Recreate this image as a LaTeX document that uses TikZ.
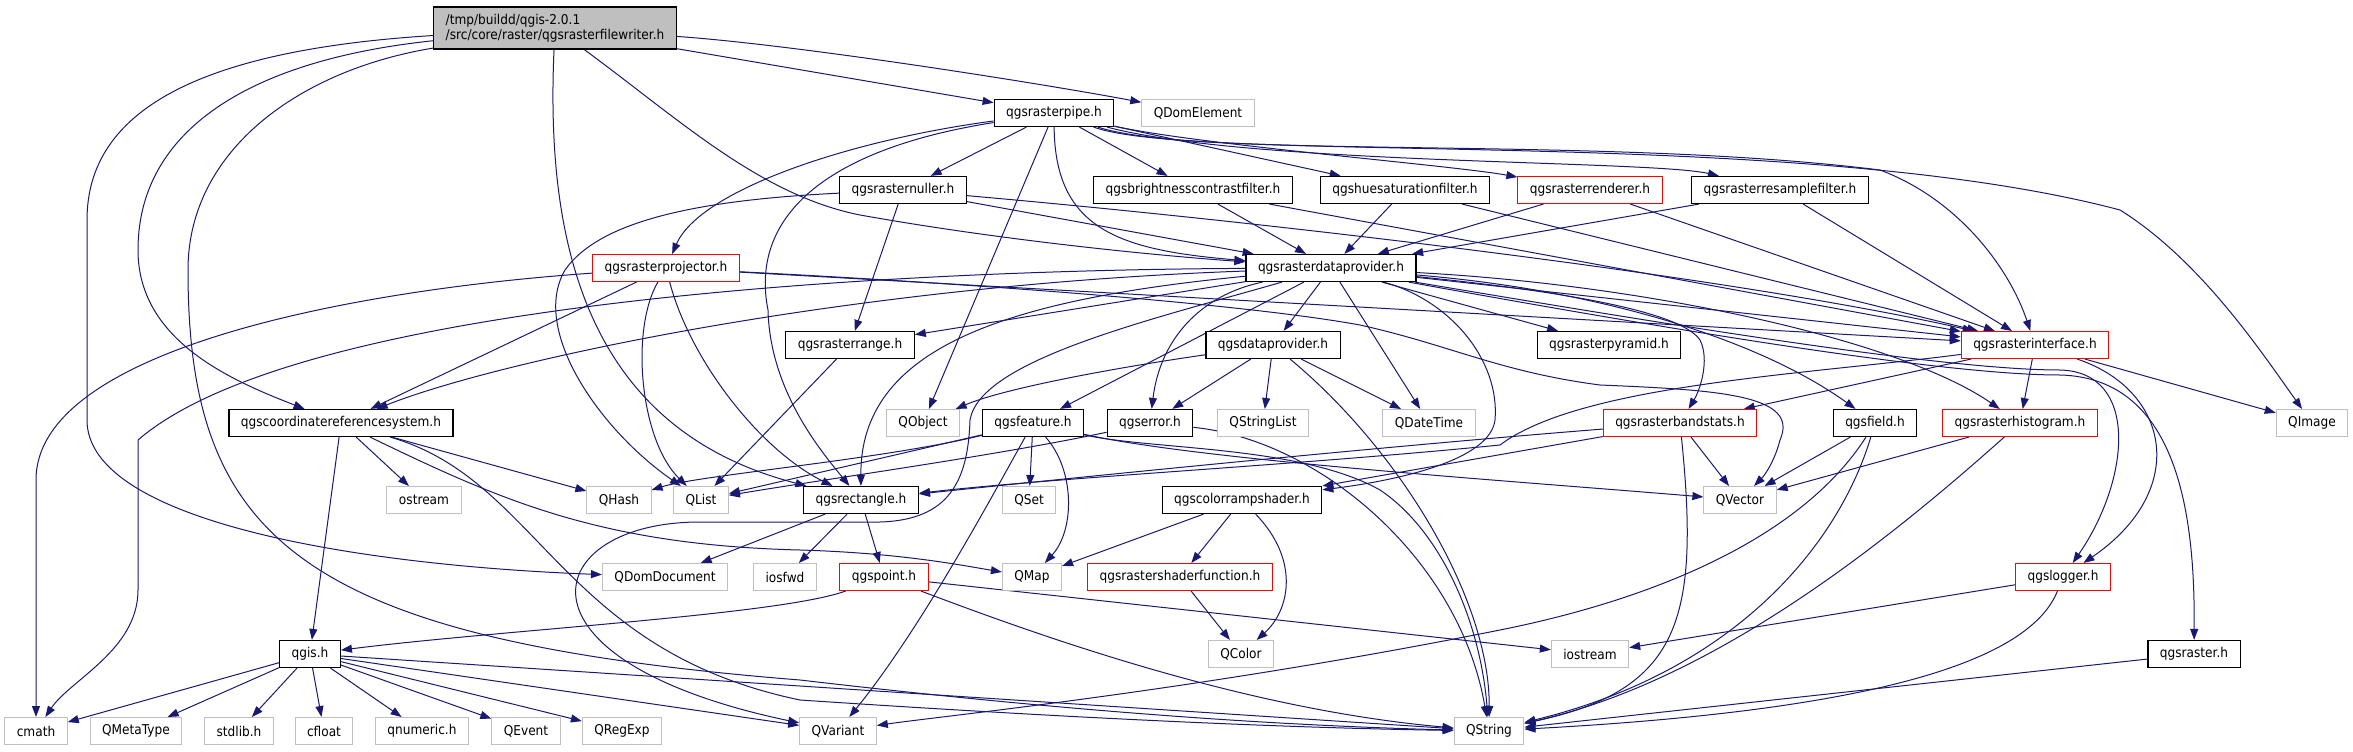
\documentclass[tikz,border=0pt]{standalone}
\usepackage{fontspec}
\setmainfont{DejaVu Sans}[FakeStretch=0.9]
\usepackage{tikz}
\usetikzlibrary{arrows.meta,backgrounds}

\definecolor{depblue}{RGB}{25,25,112}
\definecolor{extgray}{RGB}{191,191,191}

\tikzset{
  hdr/.style={draw=black, line width=1.2pt, fill=white, inner xsep=12pt, inner ysep=0pt,
    minimum height=27pt, font=\fontsize{13.5}{15}\selectfont},
  hdrred/.style={hdr, draw=red, line width=1pt},
  hdrext/.style={hdr, draw=extgray, line width=1pt},
  dep/.style={depblue, line width=1pt, -{Triangle[length=11pt,width=8pt]}},
}

\begin{document}
\begin{tikzpicture}[x=1pt, y=-1pt]
  \useasboundingbox (0,0) rectangle (2353,752);

  % Root header
  \node[hdr, fill=extgray, align=left, minimum height=42pt, inner ysep=5pt] (root) at (555,28)
    {/tmp/buildd/qgis-2.0.1\\/src/core/raster/qgsrasterfilewriter.h};

  % Row 1
  \node[hdr]    (pipe)    at (1054,113) {qgsrasterpipe.h};
  \node[hdrext] (domelem) at (1198,113) {QDomElement};

  % Row 2
  \node[hdr]    (nuller)   at (903,190)  {qgsrasternuller.h};
  \node[hdr]    (bcfilter) at (1193,190) {qgsbrightnesscontrastfilter.h};
  \node[hdr]    (hsfilter) at (1405,190) {qgshuesaturationfilter.h};
  \node[hdrred] (renderer) at (1590,190) {qgsrasterrenderer.h};
  \node[hdr]    (resample) at (1780,190) {qgsrasterresamplefilter.h};

  % Row 3
  \node[hdrred] (projector) at (666,268)  {qgsrasterprojector.h};
  \node[hdr]    (rdprov)    at (1331,268) {qgsrasterdataprovider.h};

  % Row 4
  \node[hdr]    (rrange)     at (850,345)  {qgsrasterrange.h};
  \node[hdr]    (dprov)      at (1273,345) {qgsdataprovider.h};
  \node[hdr]    (pyramid)    at (1609,345) {qgsrasterpyramid.h};
  \node[hdrred] (rinterface) at (2035,345) {qgsrasterinterface.h};

  % Row 5
  \node[hdr]    (crs)       at (341,423)  {qgscoordinatereferencesystem.h};
  \node[hdrext] (qobject)   at (923,423)  {QObject};
  \node[hdr]    (feature)   at (1033,423) {qgsfeature.h};
  \node[hdr]    (error)     at (1150,423) {qgserror.h};
  \node[hdrext] (qstrlist)  at (1263,423) {QStringList};
  \node[hdrext] (qdatetime) at (1429,423) {QDateTime};
  \node[hdrred] (bandstats) at (1680,423) {qgsrasterbandstats.h};
  \node[hdr]    (field)     at (1875,423) {qgsfield.h};
  \node[hdrred] (histogram) at (2020,423) {qgsrasterhistogram.h};
  \node[hdrext] (qimage)    at (2312,423) {QImage};

  % Row 6
  \node[hdrext] (ostream) at (424,500)  {ostream};
  \node[hdrext] (qhash)   at (619,500)  {QHash};
  \node[hdrext] (qlist)   at (701,500)  {QList};
  \node[hdr]    (rect)    at (861,500)  {qgsrectangle.h};
  \node[hdrext] (qset)    at (1029,500) {QSet};
  \node[hdr]    (cramp)   at (1242,500) {qgscolorrampshader.h};
  \node[hdrext] (qvector) at (1740,500) {QVector};

  % Row 7
  \node[hdrext] (domdoc)   at (665,577)  {QDomDocument};
  \node[hdrext] (iosfwd)   at (785,577)  {iosfwd};
  \node[hdrred] (point)    at (884,577)  {qgspoint.h};
  \node[hdrext] (qmap)     at (1032,577) {QMap};
  \node[hdrred] (shaderfn) at (1180,577) {qgsrastershaderfunction.h};
  \node[hdrred] (logger)   at (2063,577) {qgslogger.h};

  % Row 8
  \node[hdr]    (qgis)     at (310,654)  {qgis.h};
  \node[hdrext] (qcolor)   at (1241,654) {QColor};
  \node[hdrext] (iostream) at (1590,654) {iostream};
  \node[hdr]    (raster)   at (2194,654) {qgsraster.h};

  % Row 9
  \node[hdrext] (cmath)     at (36,731)   {cmath};
  \node[hdrext] (qmetatype) at (136,731)  {QMetaType};
  \node[hdrext] (stdlib)    at (239,731)  {stdlib.h};
  \node[hdrext] (cfloat)    at (324,731)  {cfloat};
  \node[hdrext] (qnumeric)  at (422,731)  {qnumeric.h};
  \node[hdrext] (qevent)    at (526,731)  {QEvent};
  \node[hdrext] (qregexp)   at (622,731)  {QRegExp};
  \node[hdrext] (qvariant)  at (838,731)  {QVariant};
  \node[hdrext] (qstring)   at (1489,731) {QString};

  \begin{scope}[on background layer]
  % Straight dependencies
  \foreach \a/\b in {root/pipe, pipe/nuller, pipe/bcfilter, pipe/hsfilter,
      pipe/qobject, nuller/rrange, nuller/rdprov, bcfilter/rdprov, bcfilter/rinterface,
      hsfilter/rdprov, hsfilter/rinterface, renderer/rdprov, renderer/rinterface,
      resample/rdprov, resample/rinterface, projector/crs, projector/rinterface,
      rdprov/rrange, rdprov/feature, rdprov/dprov, rdprov/qdatetime, rdprov/pyramid,
      rdprov/rinterface, rinterface/bandstats, rinterface/histogram, rinterface/qimage,
      dprov/error, dprov/qstrlist, dprov/qdatetime, rrange/qlist, feature/qlist,
      feature/qset, crs/ostream, crs/qhash, crs/qgis, rect/domdoc, rect/iosfwd,
      rect/point, point/iostream, bandstats/cramp, bandstats/qvector, field/qvector,
      histogram/qvector, cramp/qmap, cramp/shaderfn, shaderfn/qcolor, logger/iostream,
      raster/qstring, qgis/cmath, qgis/qmetatype, qgis/stdlib, qgis/cfloat, qgis/qnumeric,
      qgis/qevent, qgis/qregexp, qgis/qvariant, qgis/qstring}
    \draw[dep] (\a) -- (\b);

  % Curved dependencies of the root header
  \draw[dep] (root) .. controls (800,45) and (1050,85) .. (domelem);
  \draw[dep] (root) .. controls (680,120) and (760,195) .. (860,215)
    .. controls (1000,240) and (1150,255) .. (rdprov);
  \draw[dep] (root) .. controls (545,250) and (590,430) .. (rect);
  \draw[dep] (root) .. controls (250,60) and (138,130) .. (138,250)
    .. controls (138,340) and (230,380) .. (crs);
  \draw[dep] (root) .. controls (200,50) and (87,110) .. (87,220) -- (87,420)
    .. controls (87,520) and (350,565) .. (domdoc);
  \draw[dep] (root) .. controls (300,70) and (188,150) .. (188,270)
    .. controls (188,540) and (300,640) .. (800,680)
    .. controls (1100,715) and (1300,726) .. (qstring);

  % Curved dependencies of the pipe
  \draw[dep] (pipe) .. controls (1055,230) and (1120,250) .. (rdprov);
  \draw[dep] (pipe) .. controls (850,140) and (700,190) .. (projector);
  \draw[dep] (pipe) .. controls (820,150) and (750,220) .. (768,310)
    .. controls (770,390) and (820,450) .. (rect);
  \draw[dep] (pipe) .. controls (1200,145) and (1450,165) .. (renderer);
  \draw[dep] (pipe) .. controls (1250,165) and (1650,160) .. (resample);
  \draw[dep] (pipe) .. controls (1200,160) and (1600,135) .. (1880,170)
    .. controls (1960,200) and (2010,270) .. (rinterface);
  \draw[dep] (pipe) .. controls (1200,165) and (1800,125) .. (2120,210)
    .. controls (2200,260) and (2260,350) .. (qimage);

  % Nuller and projector
  \draw[dep] (nuller) .. controls (1300,225) and (1750,280) .. (rinterface);
  \draw[dep] (nuller) .. controls (700,200) and (600,220) .. (565,270)
    .. controls (530,330) and (600,430) .. (qlist);
  \draw[dep] (projector) .. controls (350,290) and (36,350) .. (36,480) -- (cmath);
  \draw[dep] (projector) .. controls (630,330) and (640,440) .. (qlist);
  \draw[dep] (projector) .. controls (690,360) and (760,450) .. (rect);
  \draw[dep] (projector) .. controls (1000,285) and (1250,305) .. (1360,325)
    .. controls (1450,345) and (1500,372) .. (1600,385)
    .. controls (1720,390) and (1800,395) .. (1780,440)
    .. controls (1775,460) and (1765,475) .. (qvector);

  % Raster data provider
  \draw[dep] (rdprov) .. controls (900,270) and (300,300) .. (138,440) -- (138,590)
    .. controls (138,650) and (70,680) .. (cmath);
  \draw[dep] (rdprov) .. controls (850,285) and (500,360) .. (crs);
  \draw[dep] (rdprov) .. controls (1000,300) and (860,350) .. (rect);
  \draw[dep] (rdprov) .. controls (1150,320) and (980,360) .. (970,420)
    .. controls (968,480) and (950,520) .. (880,522) -- (700,522)
    .. controls (540,522) and (500,660) .. (qvariant);
  \draw[dep] (rdprov) .. controls (1200,295) and (1160,340) .. (error);
  \draw[dep] (rdprov) .. controls (1450,300) and (1500,360) .. (1495,420)
    .. controls (1490,460) and (1400,480) .. (cramp);
  \draw[dep] (rdprov) .. controls (1550,290) and (1680,310) .. (1700,340)
    .. controls (1710,360) and (1700,390) .. (bandstats);
  \draw[dep] (rdprov) .. controls (1600,290) and (1760,340) .. (field);
  \draw[dep] (rdprov) .. controls (1650,285) and (1900,340) .. (histogram);
  \draw[dep] (rdprov) .. controls (1700,330) and (1950,370) .. (2060,370)
    .. controls (2140,372) and (2130,480) .. (logger);
  \draw[dep] (rdprov) .. controls (1700,335) and (1950,375) .. (2060,375)
    .. controls (2180,378) and (2195,520) .. (raster);

  % Raster interface
  \draw[dep] (rinterface) .. controls (2170,390) and (2190,490) .. (logger);
  \draw[dep] (rinterface) .. controls (1800,375) and (1580,385) .. (1500,445)
    .. controls (1300,465) and (1050,478) .. (rect);

  % Second level headers
  \draw[dep] (dprov) .. controls (1100,370) and (1000,390) .. (qobject);
  \draw[dep] (dprov) .. controls (1400,450) and (1490,600) .. (qstring);
  \draw[dep] (feature) .. controls (880,460) and (700,475) .. (qhash);
  \draw[dep] (feature) .. controls (1075,470) and (1075,530) .. (qmap);
  \draw[dep] (feature) .. controls (990,500) and (920,630) .. (qvariant);
  \draw[dep] (feature) .. controls (1150,450) and (1300,445) .. (1380,490)
    .. controls (1440,530) and (1480,620) .. (qstring);
  \draw[dep] (feature) .. controls (1200,460) and (1500,480) .. (qvector);
  \draw[dep] (error) .. controls (1000,455) and (820,480) .. (qlist);
  \draw[dep] (error) .. controls (1320,440) and (1460,560) .. (qstring);
  \draw[dep] (crs) .. controls (500,500) and (600,545) .. (800,550)
    .. controls (900,553) and (960,565) .. (qmap);
  \draw[dep] (crs) .. controls (540,480) and (560,650) .. (800,700)
    .. controls (1100,720) and (1300,728) .. (qstring);
  \draw[dep] (point) .. controls (780,615) and (500,630) .. (qgis);
  \draw[dep] (point) .. controls (1050,640) and (1250,710) .. (qstring);
  \draw[dep] (cramp) .. controls (1300,560) and (1290,610) .. (qcolor);
  \draw[dep] (bandstats) .. controls (1400,445) and (1100,475) .. (rect);
  \draw[dep] (bandstats) .. controls (1700,620) and (1680,690) .. (qstring);
  \draw[dep] (field) .. controls (1840,540) and (1740,670) .. (qstring);
  \draw[dep] (field) .. controls (1800,540) and (1650,600) .. (1500,630)
    .. controls (1200,690) and (950,715) .. (qvariant);
  \draw[dep] (histogram) .. controls (1900,530) and (1720,680) .. (qstring);
  \draw[dep] (logger) .. controls (2030,660) and (1880,710) .. (qstring);
  \end{scope}
\end{tikzpicture}
\end{document}
